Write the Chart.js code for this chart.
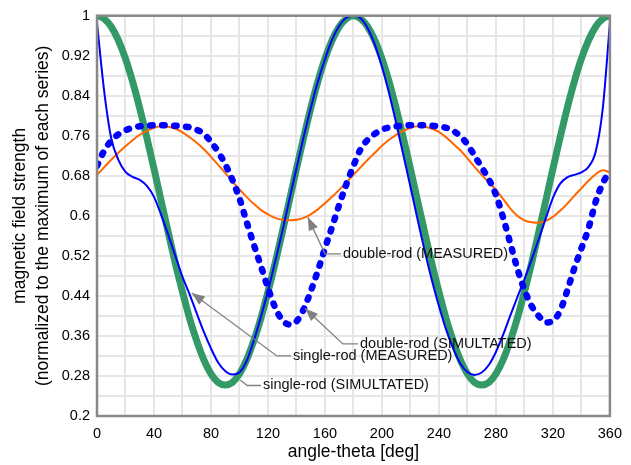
<!DOCTYPE html>
<html>
<head>
<meta charset="utf-8">
<script src="https://cdn.jsdelivr.net/npm/chart.js@4.4.0/dist/chart.umd.min.js"></script>
<style>
  body { margin: 0; background: #fff; }
  #wrap { width: 631px; height: 465px; }
</style>
</head>
<body>
<div id="wrap"><canvas id="myChart" width="631" height="465"></canvas></div>
<script>
// angle in degrees, one value every 5 deg
const angles = [];
for (let a = 0; a <= 360; a += 5) angles.push(a);

const singleRodSim = [
  1.000, 0.994, 0.978, 0.951, 0.914, 0.868, 0.815, 0.756, 0.694, 0.630,
  0.567, 0.505, 0.448, 0.395, 0.350, 0.312, 0.284, 0.267, 0.262, 0.267,
  0.284, 0.312, 0.350, 0.395, 0.448, 0.505, 0.567, 0.630, 0.694, 0.756,
  0.815, 0.868, 0.914, 0.951, 0.978, 0.994, 1.000, 0.994, 0.978, 0.951,
  0.914, 0.868, 0.815, 0.756, 0.694, 0.630, 0.567, 0.505, 0.448, 0.395,
  0.350, 0.312, 0.284, 0.267, 0.262, 0.267, 0.284, 0.312, 0.350, 0.395,
  0.448, 0.505, 0.567, 0.630, 0.694, 0.756, 0.815, 0.868, 0.914, 0.951,
  0.978, 0.994, 1.000
];

const singleRodMeas = [
  0.985, 0.850, 0.755, 0.712, 0.688, 0.678, 0.672, 0.660, 0.638, 0.602,
  0.562, 0.520, 0.478, 0.443, 0.405, 0.368, 0.335, 0.307, 0.290, 0.283,
  0.287, 0.310, 0.350, 0.398, 0.450, 0.508, 0.568, 0.632, 0.695, 0.757,
  0.815, 0.868, 0.913, 0.952, 0.980, 0.996, 1.000, 0.995, 0.975, 0.942,
  0.898, 0.845, 0.785, 0.722, 0.658, 0.593, 0.530, 0.472, 0.420, 0.373,
  0.335, 0.305, 0.288, 0.282, 0.287, 0.302, 0.328, 0.362, 0.400, 0.437,
  0.473, 0.512, 0.553, 0.595, 0.636, 0.664, 0.677, 0.682, 0.687, 0.698,
  0.728, 0.815, 0.985
];

const doubleRodSim = [
  0.700, 0.730, 0.750, 0.763, 0.771, 0.776, 0.779, 0.780, 0.781, 0.781,
  0.781, 0.780, 0.779, 0.777, 0.772, 0.764, 0.748, 0.728, 0.703, 0.672,
  0.635, 0.588, 0.543, 0.500, 0.456, 0.417, 0.392, 0.383, 0.389, 0.413,
  0.449, 0.490, 0.535, 0.578, 0.622, 0.663, 0.700, 0.733, 0.752, 0.764,
  0.772, 0.777, 0.779, 0.780, 0.781, 0.781, 0.781, 0.780, 0.779, 0.776,
  0.770, 0.759, 0.743, 0.720, 0.697, 0.673, 0.642, 0.597, 0.546, 0.495,
  0.452, 0.420, 0.400, 0.387, 0.390, 0.410, 0.450, 0.495, 0.535, 0.575,
  0.628, 0.665, 0.690
];

const doubleRodMeas = [
  0.682, 0.697, 0.712, 0.726, 0.739, 0.751, 0.762, 0.770, 0.776, 0.779,
  0.778, 0.774, 0.767, 0.757, 0.746, 0.733, 0.718, 0.702, 0.686, 0.669,
  0.653, 0.638, 0.624, 0.612, 0.603, 0.596, 0.592, 0.591, 0.592, 0.596,
  0.603, 0.613, 0.625, 0.638, 0.652, 0.667, 0.682, 0.697, 0.712, 0.726,
  0.740, 0.752, 0.762, 0.770, 0.776, 0.779, 0.778, 0.774, 0.768, 0.757,
  0.744, 0.731, 0.715, 0.698, 0.682, 0.667, 0.652, 0.634, 0.615, 0.600,
  0.591, 0.587, 0.586, 0.590, 0.598, 0.610, 0.624, 0.640, 0.655, 0.670,
  0.683, 0.691, 0.687
];

const xTickLabels = ["0", "40", "80", "120", "160", "200", "240", "280", "320", "360"];
const yTickLabels = ["0.2", "0.28", "0.36", "0.44", "0.52", "0.6", "0.68", "0.76", "0.84", "0.92", "1"];

// callouts: label, arrow tip [deg, value], elbow [deg, value], text start (deg)
const noteText = ["double-rod (MEASURED)", "double-rod (SIMULTATED)", "single-rod (MEASURED)", "single-rod (SIMULTATED)"];
const noteTip = [[148, 0.597], [146, 0.415], [66.5, 0.446], [100.5, 0.272]];
const noteElbow = [[160, 0.524], [172.6, 0.344], [126.3, 0.32], [105.5, 0.261]];
const noteTextX = [172.6, 184.6, 137.5, 116.5];
const noteArrow = [true, true, true, false];

const FONT = "'Liberation Sans', Arial, sans-serif";

function toPoints(vals) {
  return angles.map((a, i) => ({ x: a, y: vals[i] }));
}

const framePlugin = {
  id: "frame",
  afterDraw(chart) {
    const { ctx, chartArea: a, scales } = chart;
    ctx.save();
    ctx.strokeStyle = "#888888";
    ctx.lineWidth = 2.5;
    ctx.strokeRect(a.left, a.top, a.right - a.left, a.bottom - a.top);

    // callouts
    ctx.strokeStyle = "#808080";
    ctx.fillStyle = "#808080";
    ctx.lineWidth = 1.3;
    ctx.font = "14.5px " + FONT;
    for (let i = 0; i < noteText.length; i++) {
      const tx = scales.x.getPixelForValue(noteTip[i][0]);
      const ty = scales.y.getPixelForValue(noteTip[i][1]);
      const ex = scales.x.getPixelForValue(noteElbow[i][0]);
      const ey = scales.y.getPixelForValue(noteElbow[i][1]);
      const lx = scales.x.getPixelForValue(noteTextX[i]);
      ctx.beginPath();
      ctx.moveTo(tx, ty);
      ctx.lineTo(ex, ey);
      ctx.lineTo(lx - 2, ey);
      ctx.stroke();
      if (noteArrow[i]) {
        const ang = Math.atan2(ty - ey, tx - ex);
        ctx.beginPath();
        ctx.moveTo(tx, ty);
        ctx.lineTo(tx - 13 * Math.cos(ang) + 5 * Math.sin(ang), ty - 13 * Math.sin(ang) - 5 * Math.cos(ang));
        ctx.lineTo(tx - 13 * Math.cos(ang) - 5 * Math.sin(ang), ty - 13 * Math.sin(ang) + 5 * Math.cos(ang));
        ctx.closePath();
        ctx.fill();
      }
      ctx.fillStyle = "#111";
      ctx.textAlign = "left";
      ctx.textBaseline = "middle";
      ctx.fillText(noteText[i], lx, ey);
      ctx.fillStyle = "#808080";
    }
    ctx.restore();
  }
};

new Chart(document.getElementById("myChart"), {
  type: "line",
  data: {
    datasets: [
      {
        label: "single-rod (MEASURED)",
        data: toPoints(singleRodMeas),
        borderColor: "#0000ff",
        borderWidth: 2,
        order: 0
      },
      {
        label: "double-rod (SIMULTATED)",
        data: toPoints(doubleRodSim),
        borderColor: "#0000ff",
        borderWidth: 6.5,
        borderDash: [2.5, 9.5],
        borderCapStyle: "round",
        order: 1
      },
      {
        label: "double-rod (MEASURED)",
        data: toPoints(doubleRodMeas),
        borderColor: "#ff6600",
        borderWidth: 2,
        order: 2
      },
      {
        label: "single-rod (SIMULTATED)",
        data: toPoints(singleRodSim),
        borderColor: "#339966",
        borderWidth: 7,
        order: 3
      }
    ]
  },
  options: {
    responsive: false,
    animation: false,
    layout: { padding: { top: 12, right: 21, left: 0, bottom: 0 } },
    elements: {
      point: { radius: 0 },
      line: { cubicInterpolationMode: "monotone", fill: false }
    },
    plugins: {
      legend: { display: false },
      tooltip: { enabled: false }
    },
    scales: {
      x: {
        type: "linear",
        min: 0,
        max: 360,
        z: 1,
        afterFit: (s) => { s.height = 49; },
        grid: { color: "#e6e6e6", lineWidth: 2, drawTicks: false },
        border: { display: false },
        ticks: {
          stepSize: 20,
          autoSkip: false,
          maxRotation: 0,
          padding: 9,
          color: "#000",
          font: { family: FONT, size: 14.5 },
          callback: (v, i) => (i % 2 ? "" : xTickLabels[i / 2])
        },
        title: {
          display: true,
          text: "angle-theta [deg]",
          color: "#000",
          font: { family: FONT, size: 17.5 },
          padding: { top: 0, bottom: 2 }
        }
      },
      y: {
        min: 0.2,
        max: 1,
        z: 1,
        afterFit: (s) => { s.width = 97; },
        grid: { color: "#e6e6e6", lineWidth: 2, drawTicks: false },
        border: { display: false },
        ticks: {
          stepSize: 0.04,
          autoSkip: false,
          padding: 7,
          color: "#000",
          font: { family: FONT, size: 14.5 },
          callback: (v, i) => (i % 2 ? "" : yTickLabels[i / 2])
        },
        title: {
          display: true,
          text: ["magnetic field strength", "(normalized to the maximum of each series)"],
          color: "#000",
          font: { family: FONT, size: 17.5, lineHeight: 1.31 },
          padding: { top: 9, bottom: 0 }
        }
      }
    }
  },
  plugins: [framePlugin]
});
</script>
</body>
</html>
